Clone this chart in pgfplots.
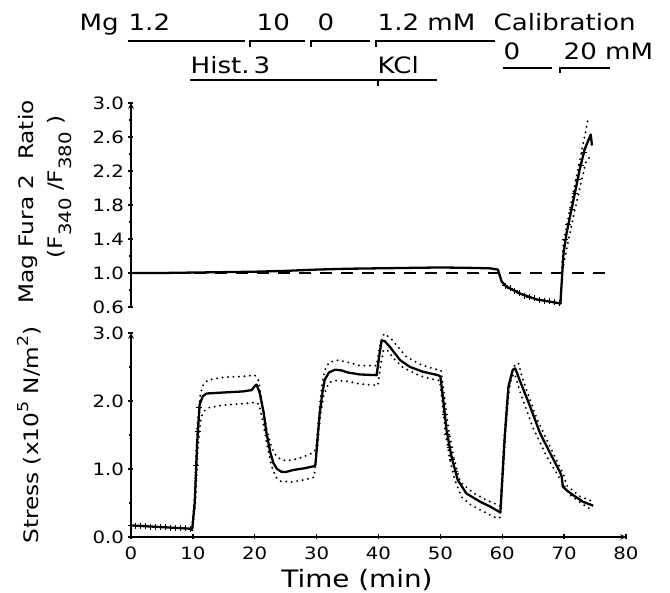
\documentclass[border=0pt]{standalone}
\usepackage{fontspec}
\setmainfont{DejaVu Sans}[FakeStretch=1.16]
\usepackage{pgfplots}
\pgfplotsset{compat=1.18}
\pgfplotsset{
  myax/.style={scale only axis, width=495pt, height=204pt, xmin=0, xmax=80,
    axis line style={line width=1.5pt,-}, tick style={line width=1.3pt, black},
    tick align=outside, major tick length=5pt, minor tick length=3pt,
    ticklabel style={font=\fontsize{17}{20}\selectfont},
    /pgf/number format/assume math mode=true,
    yticklabel style={/pgf/number format/fixed, /pgf/number format/fixed zerofill, /pgf/number format/precision=1, xshift=-1pt},
    xticklabel style={yshift=-4pt},
    clip=false},
  sol/.style={black, line width=2.3pt, line join=round, no marks},
  dots/.style={black, line width=2.2pt, line cap=round, dash pattern=on 0pt off 5.5pt, no marks},
  pl/.style={black, only marks, mark=+, mark size=3pt, mark options={line width=1pt}}
}
\begin{document}
\begin{tikzpicture}
\useasboundingbox (-131pt,-56pt) rectangle (539pt,537pt);
% ---------------- bottom axis: stress
\begin{axis}[myax, at={(0pt,0pt)}, anchor=south west,
  axis x line=bottom, axis y line=left,
  ymin=0, ymax=3, ytick={0,1,2,3}, minor ytick={0.5,1.5,2.5},
  xtick={0,10,20,30,40,50,60,70,80},
  xticklabel style={/pgf/number format/precision=0}]
\addplot[sol] coordinates {
(0,0.17) (2,0.16) (4,0.15) (6,0.14) (8,0.13) (9.9,0.12) (10.3,0.5) (10.7,1.4) (11.1,1.95) (11.6,2.07) (12.2,2.11)
(14,2.12) (16,2.13) (18,2.14) (19.5,2.16) (20.0,2.22) (20.3,2.24) (20.8,2.12) (21.4,1.85) (21.9,1.53) (22.5,1.25)
(23.0,1.09) (23.6,1.00) (24.3,0.96) (25.0,0.955) (26.2,0.985) (28,1.01) (29.5,1.04) (29.8,1.06) (30.2,1.5)
(30.5,1.82) (30.9,2.1) (31.3,2.31) (32,2.42) (33,2.46) (34,2.45) (35,2.42) (37,2.39) (39.7,2.38) (40.1,2.65)
(40.5,2.89) (41.0,2.88) (41.8,2.80) (43.5,2.60) (45.1,2.50) (47.2,2.43) (49.6,2.38) (50.0,2.36) (50.4,2.06)
(51.0,1.57) (51.8,1.18) (52.8,0.84) (54.2,0.64) (56.4,0.52) (58,0.45) (59.7,0.36) (60.4,1.47) (61.0,2.21)
(61.7,2.46) (62.1,2.48) (62.8,2.31) (64.5,1.92) (66.1,1.53) (67.7,1.24) (69.3,0.96) (69.6,0.89) (69.8,0.74)
(70.5,0.68) (71.4,0.62) (73.0,0.52) (74.7,0.46)};
\addplot[dots] coordinates {
(9.9,0.14) (10.3,0.6) (10.7,1.6) (11.2,2.1) (11.7,2.25) (12.5,2.31) (15,2.35) (18,2.36) (20,2.38) (20.6,2.3)
(21.2,1.95) (22,1.55) (22.8,1.3) (23.6,1.17) (25,1.12) (27,1.15) (29.5,1.24) (29.9,1.3) (30.3,1.7) (30.8,2.2)
(31.3,2.45) (32,2.57) (33.5,2.60) (35,2.57) (37,2.52) (39.7,2.52) (40.2,2.8) (40.9,2.99) (42,2.92) (44.5,2.65)
(46.7,2.54) (49.1,2.47) (50.1,2.45) (50.6,2.1) (51.3,1.6) (52.2,1.15) (53.2,0.81) (55.3,0.65) (57.5,0.54)
(59.3,0.47) (59.8,0.45) (60.5,1.5) (61.2,2.3) (62,2.52) (62.6,2.56) (63.3,2.32) (64.5,2.02) (65.5,1.76)
(67.7,1.33) (69.3,1.03) (69.9,0.92) (70.4,0.76) (72.5,0.6) (74.7,0.52)};
\addplot[dots] coordinates {
(9.9,0.10) (10.4,0.5) (10.8,1.3) (11.3,1.75) (11.8,1.85) (12.5,1.90) (15,1.94) (18,1.96) (20.2,1.98) (20.7,1.95)
(21.3,1.7) (22,1.35) (22.7,1.05) (23.4,0.88) (24.2,0.82) (26,0.81) (28,0.84) (29.6,0.88) (30.1,1.3) (30.6,1.8)
(31.2,2.1) (32,2.27) (33,2.30) (35,2.29) (37,2.25) (39.9,2.23) (40.3,2.5) (40.8,2.75) (41.5,2.74) (42.5,2.62)
(44,2.49) (46.7,2.37) (48.8,2.32) (49.9,2.30) (50.3,2.0) (50.8,1.55) (51.5,1.15) (52.3,0.85) (53.4,0.59)
(54.8,0.48) (56.4,0.40) (58.8,0.29) (59.6,0.28) (60.2,1.3) (60.8,2.05) (61.5,2.35) (62,2.40) (63,2.1)
(64,1.85) (65,1.6) (67.2,1.18) (69.3,0.86) (70.9,0.62) (73.8,0.43) (74.7,0.41)};
\addplot[pl] coordinates {
(0,0.17) (0.8,0.166) (1.6,0.162) (2.4,0.158) (3.2,0.154) (4.0,0.150) (4.8,0.146) (5.6,0.142) (6.4,0.138)
(7.2,0.134) (8.0,0.130) (8.8,0.126) (9.6,0.122)
(10.55,1.05) (10.8,1.55) (11.05,1.9)
(50.7,1.8) (51.1,1.5) (51.5,1.32) (51.9,1.14) (52.4,0.97)};
\end{axis}
% ---------------- top axis: ratio
\begin{axis}[myax, at={(0pt,230pt)}, anchor=south west,
  axis x line=none, axis y line=left,
  ymin=0.6, ymax=3.0, ytick={0.6,1.0,1.4,1.8,2.2,2.6,3.0}, minor ytick={0.8,1.2,1.6,2.0,2.4,2.8}]
\addplot[black, line width=1.8pt, dash pattern=on 12pt off 9pt, no marks] coordinates {(0,1) (78,1)};
\addplot[sol] coordinates {
(0,1.0) (5,1.0) (10,1.005) (15,1.01) (20,1.015) (25,1.025) (30,1.04) (35,1.05) (40,1.055) (45,1.06) (50,1.065)
(55,1.06) (58,1.055) (59.3,1.04) (59.6,0.97) (59.9,0.90) (60.5,0.85) (61.2,0.82) (62.8,0.76) (65.5,0.69)
(68.7,0.65) (69.4,0.64) (69.7,1.0) (69.9,1.23) (70.4,1.47) (71.4,1.82) (72.5,2.21) (73.3,2.45) (74.3,2.63) (74.5,2.5)};
\addplot[dots] coordinates {(69.6,1.0) (69.9,1.35) (70.9,1.74) (72,2.13) (73.1,2.53) (73.9,2.82)};
\addplot[dots] coordinates {(69.9,1.1) (70.6,1.35) (71.6,1.7) (72.7,2.05) (73.5,2.3) (74.4,2.39)};
\addplot[pl] coordinates {
(60.5,0.85) (61.3,0.82) (62,0.79) (62.8,0.76) (63.6,0.735) (64.4,0.715) (65.2,0.70) (66,0.685) (66.8,0.675)
(67.6,0.665) (68.4,0.655) (69.2,0.645)
(70.2,1.39) (70.7,1.57) (71.2,1.75) (71.7,1.93) (72.2,2.10) (72.7,2.27) (73.2,2.42)};
\end{axis}
% ---------------- labels
\node[anchor=base, font=\fontsize{24}{28}\selectfont] at (226pt,-51pt) {Time (min)};
\node[rotate=90, anchor=base, font=\fontsize{20}{24}\selectfont] at (-97pt,335pt) {Mag Fura 2\ \ Ratio};
\node[rotate=90, anchor=base, font=\fontsize{20}{24}\selectfont] at (-68pt,350pt)
  {(F\raisebox{-0.45em}{\fontsize{17}{18}\selectfont 340} /F\raisebox{-0.45em}{\fontsize{17}{18}\selectfont 380} )};
\node[rotate=90, anchor=base, font=\fontsize{20}{24}\selectfont] at (-92pt,102pt)
  {Stress (x10\raisebox{0.5em}{\fontsize{15}{18}\selectfont 5} N/m\raisebox{0.5em}{\fontsize{15}{18}\selectfont 2})};
% ---------------- annotations
\begin{scope}[font=\fontsize{22.5}{26}\selectfont, line width=1.3pt]
\node[anchor=base west, inner sep=0pt] at (-52pt,506pt) {Mg};
\node[anchor=base west, inner sep=0pt] at (-3pt,506pt) {1.2};
\draw (-3pt,496pt) -- (114pt,496pt);
\node[anchor=base west, inner sep=0pt] at (125pt,506pt) {10};
\draw (119pt,490pt) -- (119pt,496pt) -- (174pt,496pt);
\node[anchor=base west, inner sep=0pt] at (186pt,506pt) {0};
\draw (180pt,490pt) -- (180pt,496pt) -- (239pt,496pt);
\node[anchor=base west, inner sep=0pt] at (246pt,506pt) {1.2 mM};
\draw (245pt,490pt) -- (245pt,496pt) -- (364pt,496pt);
\node[anchor=base west, inner sep=0pt] at (362pt,506pt) {Calibration};
\node[anchor=base west, inner sep=0pt] at (59pt,463pt) {Hist.\hspace{0.18em}3};
\draw (59pt,457pt) -- (246pt,457pt);
\node[anchor=base west, inner sep=0pt] at (246pt,463pt) {KCl};
\draw (247pt,451pt) -- (247pt,457pt) -- (306pt,457pt);
\node[anchor=base west, inner sep=0pt] at (372pt,477pt) {0};
\draw (372pt,469pt) -- (421pt,469pt);
\node[anchor=base west, inner sep=0pt] at (432pt,477pt) {20 mM};
\draw (429pt,464pt) -- (429pt,469pt) -- (479pt,469pt);
\end{scope}
\end{tikzpicture}
\end{document}
